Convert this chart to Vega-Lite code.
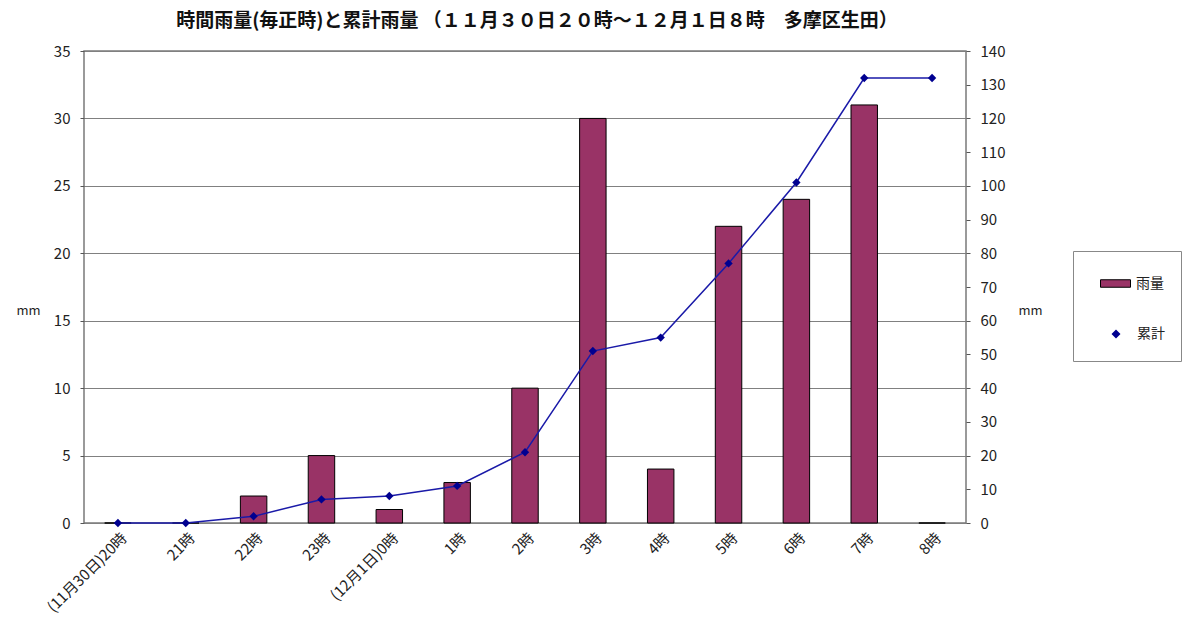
{
  "$schema": "https://vega.github.io/schema/vega-lite/v6.json",
  "width": 882,
  "height": 472,
  "autosize": "none",
  "padding": {"left": 84, "top": 51, "right": 226, "bottom": 112},
  "background": "white",
  "title": {
    "text": "時間雨量(毎正時)と累計雨量 （１１月３０日２０時～１２月１日８時　多摩区生田）",
    "fontSize": 19,
    "fontWeight": "bold",
    "font": "Noto Sans CJK JP",
    "color": "#111",
    "offset": 13,
    "anchor": "middle",
    "dx": 12
  },
  "config": {
    "font": "Noto Sans CJK JP",
    "view": {"fill": "#C0C0C0", "stroke": "#7a7a7a", "strokeWidth": 1.5},
    "axis": {"labelFontSize": 15, "labelColor": "#222", "titleFontWeight": "normal", "titleColor": "#222", "titleFontSize": 13, "domainColor": "#555", "tickColor": "#555"}
  },
  "data": {
    "values": [
      {"t": "(11月30日)20時", "rain": 0, "cum": 0},
      {"t": "21時", "rain": 0, "cum": 0},
      {"t": "22時", "rain": 2, "cum": 2},
      {"t": "23時", "rain": 5, "cum": 7},
      {"t": "(12月1日)0時", "rain": 1, "cum": 8},
      {"t": "1時", "rain": 3, "cum": 11},
      {"t": "2時", "rain": 10, "cum": 21},
      {"t": "3時", "rain": 30, "cum": 51},
      {"t": "4時", "rain": 4, "cum": 55},
      {"t": "5時", "rain": 22, "cum": 77},
      {"t": "6時", "rain": 24, "cum": 101},
      {"t": "7時", "rain": 31, "cum": 132},
      {"t": "8時", "rain": 0, "cum": 132}
    ]
  },
  "layer": [
    {
      "mark": {"type": "bar", "width": {"band": 0.39}, "fill": "#993366", "stroke": "#000", "strokeWidth": 1},
      "encoding": {
        "x": {
          "field": "t",
          "type": "nominal",
          "sort": null,
          "scale": {"paddingInner": 0, "paddingOuter": 0},
          "axis": {"title": null, "labelAngle": -45, "labelAlign": "right", "labelBaseline": "middle", "labelPadding": 12, "labelOffset": 6, "tickBand": "extent", "tickSize": 0, "domain": false}
        },
        "y": {
          "field": "rain",
          "type": "quantitative",
          "scale": {"domain": [0, 35], "nice": false},
          "axis": {"values": [0, 5, 10, 15, 20, 25, 30, 35], "title": "mm", "titleAngle": 0, "titleX": -56, "titleY": 259, "titleAlign": "center", "titleBaseline": "middle", "grid": true, "gridColor": "#808080", "gridWidth": 1, "tickSize": 4, "labelPadding": 10, "domain": false}
        }
      }
    },
    {
      "mark": {"type": "line", "strokeWidth": 1.5, "color": "#1a1aa8", "point": {"shape": "diamond", "filled": true, "size": 70, "color": "#000090", "opacity": 1}},
      "encoding": {
        "x": {"field": "t", "type": "nominal", "sort": null},
        "y": {
          "field": "cum",
          "type": "quantitative",
          "scale": {"domain": [0, 140], "nice": false},
          "axis": {"orient": "right", "values": [0, 10, 20, 30, 40, 50, 60, 70, 80, 90, 100, 110, 120, 130, 140], "title": "mm", "titleAngle": 0, "titleX": 64, "titleY": 259, "titleAlign": "center", "titleBaseline": "middle", "grid": false, "tickSize": 4, "labelPadding": 10, "domain": false}
        }
      }
    },
    {
      "data": {"values": [{"series": "雨量"}]},
      "mark": {"type": "point", "filled": true, "stroke": "#000000", "strokeWidth": 1, "opacity": 0},
      "encoding": {
        "color": {
          "field": "series",
          "type": "nominal",
          "scale": {"domain": ["雨量"], "range": ["#993366"]},
          "legend": {
            "title": "　",
            "titleOrient": "bottom",
            "titlePadding": 39,
            "titleFontSize": 14,
            "orient": "none",
            "legendX": 989,
            "legendY": 200,
            "padding": 17,
            "strokeColor": "#888",
            "fillColor": "white",
            "symbolType": "M-1,-0.25H1V0.25H-1Z",
            "symbolSize": 900,
            "symbolOffset": 10,
            "symbolOpacity": 1,
            "symbolStrokeColor": "#000000",
            "symbolStrokeWidth": 1,
            "labelFontSize": 14,
            "labelOffset": 5,
            "labelColor": "#222"
          }
        }
      }
    },
    {
      "data": {"values": [{"series": "累計"}]},
      "mark": {"type": "point", "filled": true, "fill": "#000090", "stroke": "#1a1aa8", "strokeWidth": 1.5, "opacity": 0},
      "encoding": {
        "shape": {
          "field": "series",
          "type": "nominal",
          "scale": {"domain": ["累計"], "range": ["M-1,0H1M0,-0.3L0.3,0L0,0.3L-0.3,0Z"]},
          "legend": {
            "title": null,
            "orient": "none",
            "legendX": 1006,
            "legendY": 267,
            "padding": 0,
            "symbolSize": 900,
            "symbolOffset": 10,
            "symbolOpacity": 1,
            "symbolFillColor": "#000090",
            "symbolStrokeColor": "#1a1aa8",
            "symbolStrokeWidth": 1.5,
            "labelFontSize": 14,
            "labelOffset": 5,
            "labelColor": "#222",
            "encode": {
              "symbols": {
                "stroke": {"value": "#1a1aa8"},
                "strokeWidth": {"value": 1.5},
                "fill": {"value": "#000090"}
              }
            }
          }
        }
      }
    }
  ],
  "resolve": {"scale": {"y": "independent"}}
}
